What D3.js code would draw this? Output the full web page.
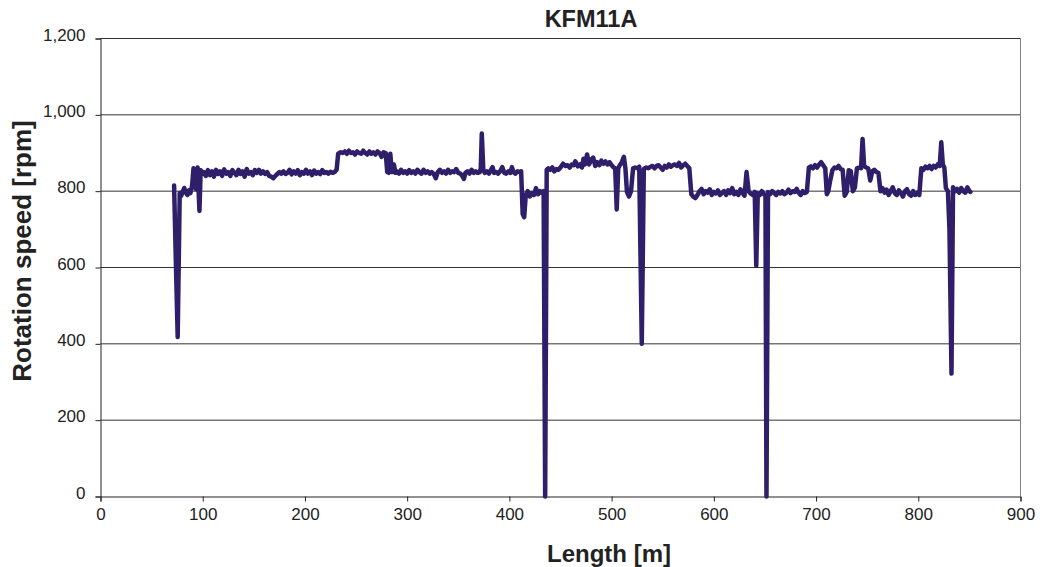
<!DOCTYPE html>
<html>
<head>
<meta charset="utf-8">
<script src="https://cdn.jsdelivr.net/npm/d3@7"></script>
<style>
  html, body { margin: 0; padding: 0; background: #fff; }
  svg { display: block; font-family: "Liberation Sans", Arial, sans-serif; }
</style>
</head>
<body>
<svg id="chart" width="1040" height="567"></svg>
<script>
// Borehole KFM11A: rotation speed along the hole
const chartTitle = "KFM11A";
const xLabel = "Length [m]";
const yLabel = "Rotation speed [rpm]";
const xTicks = [0, 100, 200, 300, 400, 500, 600, 700, 800, 900];
const yTicks = [0, 200, 400, 600, 800, 1000, 1200];

const lengthM = [
  72, 73.5, 75.5, 77.5, 79, 80.5, 82, 83.5, 85, 86.5, 88, 89.5, 91, 92.5, 93.5, 95, 96.8, 98, 99.5,
  101, 103, 105, 107, 109, 111, 113, 115, 117, 119, 121, 123, 125, 127, 129, 131, 133, 135, 137, 139,
  141, 143, 145, 147, 149, 151, 153, 155, 157, 159, 161, 163, 165, 167, 169, 171, 173, 175, 177, 179,
  181, 183, 185, 187, 189, 191, 193, 195, 197, 199, 201, 203, 205, 207, 209, 211, 213, 215, 217, 219,
  221, 223, 225, 227, 229, 231, 232.5, 235, 237, 239, 241, 243, 245, 247, 249, 251, 253, 255, 257, 259,
  261, 263, 265, 267, 269, 271, 273, 275, 277, 279, 280.5, 282, 283.5, 285, 287, 288.5, 290, 292, 294,
  296, 298, 300, 302, 304, 306, 308, 310, 312, 314, 316, 318, 320, 322, 324, 326, 328, 330, 332, 334,
  336, 338, 340, 342, 344, 346, 348, 350, 352, 354, 355.5, 357, 359, 361, 363, 365, 367, 369, 371, 372,
  373, 374.5, 376, 378, 380, 382, 383.5, 385, 387, 389, 391, 393, 395, 397, 399, 401, 402.5, 404, 406,
  408, 410, 411.5, 413, 414.5, 416, 418, 420, 422, 424, 426, 428, 430, 432, 433.5, 435, 436.5, 438, 440,
  442, 444, 446, 448, 450, 452.5, 455, 457, 459, 461, 463, 464.5, 467, 469, 471, 472.5, 474, 476, 478,
  480, 482, 484, 486, 488, 490, 492, 494, 496, 498, 500, 502, 503.5, 505, 506.5, 508, 510, 512, 513.5,
  515, 517, 519, 521, 523, 525, 527, 529.5, 531.5, 534, 536, 538, 540, 542, 544, 546, 548, 550, 552,
  554, 556, 558, 560, 562, 564, 566, 568, 570, 572, 574, 576, 578, 580, 582, 584, 586, 588, 590, 592,
  594, 596, 598, 600, 602, 604, 606, 608, 610, 612, 614, 616, 618, 620, 622, 624, 626, 628, 630, 632,
  634, 636, 638, 640, 641.5, 643, 645, 647, 649, 650.5, 651.5, 653, 655, 657, 659, 661, 663, 665, 667,
  669, 671, 673, 675, 677, 679, 681, 683, 685, 687, 689, 691, 693, 695, 697, 699, 701, 703, 705, 707,
  709, 710.5, 712, 714, 716, 718, 720, 722, 724, 726, 728, 730, 732, 734, 736, 738, 740, 742, 744, 745.5,
  747, 749, 751, 753, 755, 757, 759, 761, 763, 765, 767, 769, 771, 773, 775, 777, 779, 781, 783, 785,
  787, 789, 791, 793, 795, 797, 799, 801, 803, 805, 807, 809, 811, 813, 815, 817, 819, 821, 822.5, 824,
  825.5, 827, 829, 830.5, 832.5, 834, 836, 838, 840, 842, 844, 846, 848, 850, 851
];

const rpm = [
  815, 640, 418, 795, 788, 800, 808, 796, 790, 802, 795, 812, 860, 840, 805, 862, 748, 855, 845,
  850, 840, 855, 842, 852, 838, 856, 845, 852, 840, 857, 846, 850, 840, 855, 848, 842, 856, 845, 852,
  838, 858, 846, 850, 842, 855, 848, 856, 846, 852, 845, 850, 840, 838, 834, 840, 845, 850, 846, 852,
  845, 848, 856, 844, 852, 846, 855, 842, 850, 846, 856, 846, 852, 842, 854, 846, 850, 845, 855, 848,
  850, 846, 851, 848, 850, 856, 898, 902, 900, 904, 898, 906, 900, 902, 896, 904, 900, 898, 906, 900,
  896, 904, 898, 902, 896, 904, 900, 890, 902, 900, 850, 848, 898, 850, 870, 848, 852, 846, 856,
  848, 852, 846, 855, 848, 852, 846, 856, 850, 846, 856, 848, 852, 846, 850, 845, 834, 850, 856, 848,
  852, 846, 856, 848, 852, 850, 858, 848, 846, 840, 832, 848, 852, 846, 856, 848, 852, 848, 850, 860,
  951, 855, 848, 852, 846, 856, 863, 848, 850, 846, 852, 863, 848, 846, 852, 848, 863, 850, 846,
  852, 850, 852, 740, 732, 790, 800, 786, 795, 790, 808, 792, 800, 795, 800, 0, 856, 860, 856,
  862, 852, 858, 856, 862, 872, 866, 868, 862, 870, 868, 878, 865, 870, 862, 885, 870, 896, 870,
  882, 888, 866, 876, 868, 880, 872, 878, 870, 876, 868, 862, 860, 752, 860, 868, 876, 890, 860,
  798, 786, 800, 860, 862, 860, 864, 400, 858, 862, 860, 864, 866, 860, 866, 868, 862, 856, 866,
  862, 870, 864, 868, 870, 866, 874, 862, 868, 872, 866, 860, 792, 785, 782, 790, 800, 806, 792, 800,
  796, 805, 790, 798, 794, 802, 790, 796, 800, 790, 802, 795, 808, 792, 798, 790, 805, 796, 788, 850,
  800, 794, 790, 798, 605, 795, 790, 800, 792, 790, 0, 798, 792, 800, 796, 790, 798, 794, 800,
  792, 796, 804, 795, 800, 798, 806, 796, 790, 800, 795, 798, 862, 865, 860, 868, 862, 870, 876, 868,
  860, 792, 800, 830, 855, 862, 860, 866, 858, 856, 788, 798, 855, 852, 800, 810, 860, 862, 860, 937,
  866, 862, 860, 828, 852, 856, 850, 848, 800, 808, 796, 804, 790, 800, 810, 795, 790, 802, 795, 786,
  800, 805, 792, 788, 800, 790, 796, 790, 860, 856, 864, 860, 866, 858, 866, 862, 870, 866, 928, 870,
  862, 808, 800, 700, 322, 810, 800, 806, 796, 808, 800, 796, 810, 800, 798
];

const data = lengthM.map((d, i) => ({ x: d, y: rpm[i] }));

const svg = d3.select("#chart");
const plotLeft = 100.5, plotRight = 1020.5, plotTop = 38.5, plotBottom = 496.5;

const x = d3.scaleLinear().domain([0, 900]).range([plotLeft, plotRight]);
const y = d3.scaleLinear().domain([0, 1200]).range([plotBottom, plotTop]);

// horizontal gridlines
svg.append("g")
  .selectAll("line")
  .data(yTicks.filter(v => v > 0))
  .join("line")
  .attr("x1", plotLeft).attr("x2", plotRight)
  .attr("y1", d => y(d)).attr("y2", d => y(d))
  .attr("stroke", "#333").attr("stroke-width", 1);

// right frame edge
svg.append("line")
  .attr("x1", plotRight).attr("x2", plotRight)
  .attr("y1", plotTop).attr("y2", plotBottom)
  .attr("stroke", "#808080").attr("stroke-width", 1);

// y axis
const yAxis = svg.append("g")
  .attr("transform", `translate(${plotLeft},0)`)
  .call(d3.axisLeft(y).tickValues(yTicks).tickSize(5).tickPadding(10)
    .tickFormat(d3.format(",")));
yAxis.select(".domain").attr("stroke", "#222");
yAxis.selectAll(".tick line").attr("stroke", "#222");
yAxis.selectAll(".tick text")
  .attr("font-size", 17).attr("fill", "#222")
  .attr("font-family", "Liberation Sans, Arial, sans-serif")
  .attr("dy", "0.1em");

// x axis
const xAxis = svg.append("g")
  .attr("transform", `translate(0,${plotBottom})`)
  .call(d3.axisBottom(x).tickValues(xTicks).tickSize(5).tickPadding(6));
xAxis.select(".domain").attr("stroke", "#222");
xAxis.selectAll(".tick line").attr("stroke", "#222");
xAxis.selectAll(".tick text")
  .attr("font-size", 17).attr("fill", "#222")
  .attr("font-family", "Liberation Sans, Arial, sans-serif");

// data line
const line = d3.line().x(d => x(d.x)).y(d => y(d.y)).curve(d3.curveLinear);
svg.append("path")
  .datum(data)
  .attr("d", line)
  .attr("fill", "none")
  .attr("stroke", "#2f1f6b")
  .attr("stroke-width", 4.5)
  .attr("stroke-linejoin", "round")
  .attr("stroke-linecap", "round");

// title and axis labels
svg.append("text")
  .attr("x", 591).attr("y", 27)
  .attr("text-anchor", "middle")
  .attr("font-size", 23.5).attr("font-weight", "bold").attr("fill", "#222")
  .text(chartTitle);

svg.append("text")
  .attr("x", 609).attr("y", 562)
  .attr("text-anchor", "middle")
  .attr("font-size", 24).attr("font-weight", "bold").attr("fill", "#222")
  .text(xLabel);

svg.append("text")
  .attr("transform", "translate(31,251) rotate(-90)")
  .attr("text-anchor", "middle")
  .attr("font-size", 26).attr("font-weight", "bold").attr("fill", "#222")
  .text(yLabel);
</script>
</body>
</html>
